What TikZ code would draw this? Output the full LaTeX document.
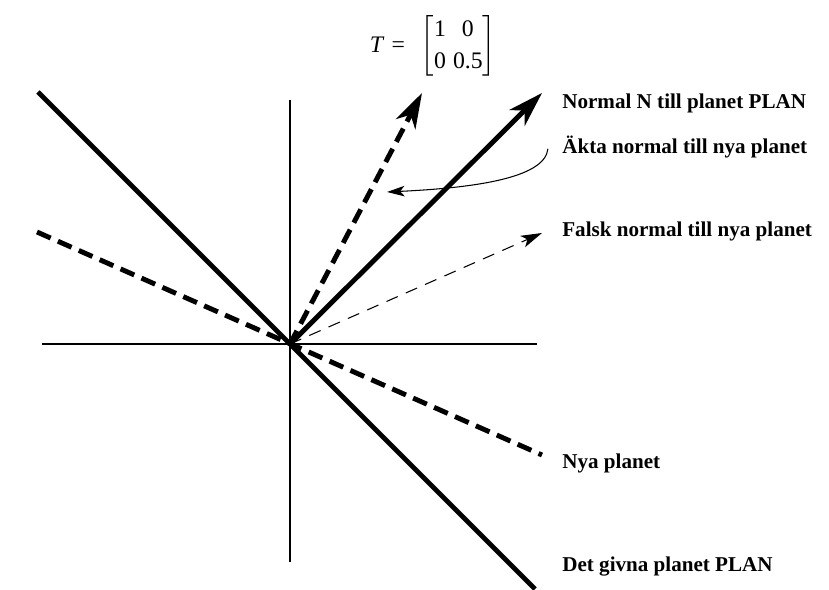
\documentclass[tikz,border=0pt]{standalone}
\usepackage{amsmath}
\usepackage{fontspec}
\setmainfont{Liberation Serif}
\usepackage{tikz}
\usetikzlibrary{arrows.meta}
\tikzset{
  axis/.style={line width=0.6pt},
  plane/.style={line width=2.8pt},
  dplane/.style={line width=2.8pt, dash pattern=on 8.5pt off 4.5pt},
  nvec/.style={line width=2.8pt, -{Stealth[length=20pt,width=12.5pt,inset=6pt]}},
  dnvec/.style={nvec, dash pattern=on 8.5pt off 4.5pt},
  fvec/.style={line width=0.6pt, dash pattern=on 7pt off 5pt, -{Stealth[length=12pt,width=7pt,inset=3pt]}},
  curv/.style={line width=0.6pt, -{Stealth[length=10pt,width=6pt,inset=2.5pt]}},
  lbl/.style={font=\bfseries\fontsize{12}{14}\selectfont, anchor=west, inner sep=0pt},
  mat/.style={font=\fontsize{13.5}{16}\selectfont, inner sep=0pt},
}

\begin{document}
\begin{tikzpicture}[x=1cm,y=1cm]
\useasboundingbox (-5.8,-4.9) rectangle (10.78,6.88);
% axes
\coordinate (O) at (0,0);
\coordinate (xl) at (-4.96,0);
\coordinate (xr) at (4.94,0);
\coordinate (yt) at (0,4.88);
\coordinate (yb) at (0,-4.36);
\draw[axis] (xl) -- (xr);
\draw[axis] (yt) -- (yb);
% planes
\coordinate (p1) at (-5.04,5.04);
\coordinate (p2) at (4.9,-4.9);
\coordinate (q1) at (-5.06,2.24);
\coordinate (q2) at (5.04,-2.22);
\draw[plane] (p1) -- (p2);
\draw[dplane] (q1) -- (q2);
% normals
\coordinate (tN) at (5.04,5.02);
\coordinate (tA) at (2.64,5.02);
\coordinate (tF) at (5.04,2.22);
\draw[nvec] (O) -- (tN);
\draw[dnvec] (O) -- (tA);
\draw[fvec] (O) -- (tF);
% labels
\node[lbl] (lN) at (5.44,4.82) {Normal N till planet PLAN};
\node[lbl] (lA) at (5.44,3.94) {Äkta normal till nya planet};
\node[lbl] (lF) at (5.44,2.26) {Falsk normal till nya planet};
\node[lbl] (lNya) at (5.44,-2.38) {Nya planet};
\node[lbl] (lP) at (5.44,-4.46) {Det givna planet PLAN};
\coordinate (cA) at (1.94,3.04);
\draw[curv] ([xshift=-8pt,yshift=-1pt]lA.west) .. controls (5.1,3.3) and (3.6,3.12) .. (cA);
% matrix
\node[mat] (T) at (2.86,5.96) {\textit{T}\hspace{4pt}=\hspace{9pt}$\left[\vcenter{\hbox{\renewcommand{\arraystretch}{1.15}\begin{tabular}{@{}c@{\hspace{4pt}}c@{}}1&0\\0&0.5\end{tabular}}}\right]$};
\end{tikzpicture}
\end{document}
